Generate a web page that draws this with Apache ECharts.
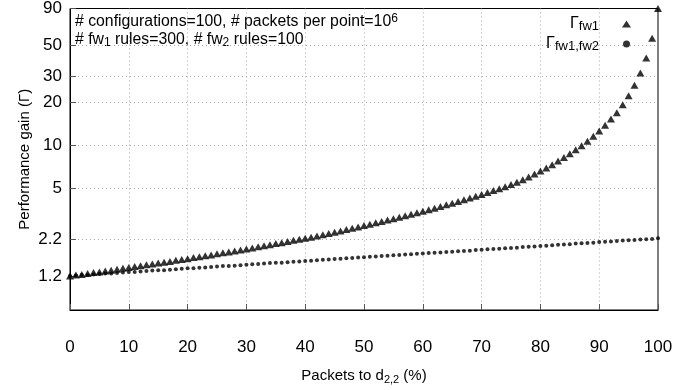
<!DOCTYPE html>
<html>
<head>
<meta charset="utf-8">
<script src="https://cdn.jsdelivr.net/npm/echarts@6/dist/echarts.min.js"></script>
<style>
html, body { margin: 0; padding: 0; background: #fff; }
#chart { width: 699px; height: 390px; }
</style>
</head>
<body>
<div id="chart"></div>
<script>
// packets to d2,2 in %, one point per percent
var packets = [0,1,2,3,4,5,6,7,8,9,10,11,12,13,14,15,16,17,18,19,20,21,22,23,24,25,26,27,28,29,30,31,32,33,34,35,36,37,38,39,40,41,42,43,44,45,46,47,48,49,50,51,52,53,54,55,56,57,58,59,60,61,62,63,64,65,66,67,68,69,70,71,72,73,74,75,76,77,78,79,80,81,82,83,84,85,86,87,88,89,90,91,92,93,94,95,96,97,98,99,100];

var gainFw1 = [1.21,1.23,1.24,1.26,1.28,1.29,1.31,1.33,1.35,1.37,1.39,1.41,1.43,1.45,1.47,1.49,1.51,1.53,1.56,1.58,1.60,1.63,1.65,1.68,1.70,1.73,1.76,1.78,1.81,1.84,1.87,1.90,1.94,1.97,2.00,2.04,2.07,2.11,2.15,2.19,2.22,2.26,2.31,2.35,2.40,2.45,2.50,2.56,2.61,2.67,2.73,2.79,2.85,2.91,2.98,3.05,3.12,3.20,3.27,3.35,3.43,3.52,3.61,3.71,3.81,3.91,4.02,4.14,4.26,4.38,4.50,4.64,4.79,4.94,5.10,5.29,5.49,5.71,5.97,6.26,6.57,6.89,7.27,7.71,8.18,8.68,9.24,9.86,10.6,11.5,12.5,13.7,15.2,16.8,19.1,22.1,26.1,31.9,40.6,55.8,90];

var gainFw1Fw2 = [1.21,1.22,1.23,1.23,1.24,1.25,1.26,1.26,1.27,1.28,1.29,1.29,1.30,1.31,1.32,1.33,1.33,1.34,1.35,1.36,1.37,1.37,1.38,1.39,1.40,1.41,1.42,1.42,1.43,1.44,1.45,1.46,1.47,1.48,1.49,1.50,1.50,1.51,1.52,1.53,1.54,1.55,1.56,1.57,1.58,1.59,1.60,1.61,1.62,1.63,1.64,1.65,1.66,1.67,1.68,1.69,1.70,1.71,1.72,1.73,1.74,1.75,1.76,1.77,1.78,1.79,1.80,1.81,1.82,1.84,1.85,1.86,1.87,1.88,1.89,1.90,1.91,1.93,1.94,1.95,1.96,1.97,1.99,2.00,2.01,2.02,2.04,2.05,2.06,2.07,2.09,2.10,2.11,2.13,2.14,2.15,2.16,2.18,2.19,2.20,2.22];

var yTicks = [1.2, 2.2, 5, 10, 20, 30, 50, 90];
var seriesNames = ['fw1', 'fw1,fw2'];

var font = 'Liberation Sans, Arial, sans-serif';

function pairs(vals) {
    var out = [];
    for (var i = 0; i < packets.length; i++) out.push([packets[i], vals[i]]);
    return out;
}

var dom = document.getElementById('chart');
var myChart = echarts.init(dom);

var gridLine = { show: true, showMinLine: false, showMaxLine: false,
    lineStyle: { color: '#a8a8a8', type: [1, 3], width: 1 } };

var option = {
    animation: false,
    grid: { left: 70, right: 41, top: 8, bottom: 79, show: true, borderColor: '#000', borderWidth: 1 },
    legend: {
        orient: 'vertical', align: 'right', right: 63, top: 11,
        itemWidth: 9, itemHeight: 7, itemGap: 3,
        textStyle: { fontFamily: font, fontSize: 15, color: '#000', padding: [0, 18, 0, 0] },
        formatter: function (name) { return '{g|Γ}{s|' + name + '}'; },
        data: seriesNames
    },
    xAxis: {
        type: 'value', min: 0, max: 100, interval: 10,
        name: 'Packets to d{s|2,2} (%)', nameLocation: 'middle', nameGap: 57,
        nameTextStyle: { fontFamily: font, fontSize: 15, color: '#000', lineHeight: 18,
            rich: { s: { fontSize: 11, verticalAlign: 'bottom', lineHeight: 10 } } },
        axisLine: { show: true, lineStyle: { color: '#000' } },
        axisTick: { show: true, inside: true, length: 6, lineStyle: { color: '#555' } },
        axisLabel: { fontFamily: font, fontSize: 17, color: '#000', margin: 29 },
        splitLine: gridLine
    },
    yAxis: {
        type: 'log', logBase: 10, min: 0.7, max: 90,
        name: 'Performance gain (Γ)', nameLocation: 'middle', nameGap: 38, nameRotate: 90,
        nameMoveOverlap: false,
        nameTextStyle: { fontFamily: font, fontSize: 15, color: '#000' },
        axisLine: { show: true, lineStyle: { color: '#000' } },
        axisTick: { show: true, inside: true, length: 6, lineStyle: { color: '#555' }, customValues: yTicks },
        axisLabel: { fontFamily: font, fontSize: 17, color: '#000', margin: 8, customValues: yTicks,
            formatter: function (v) { return String(v); } },
        splitLine: gridLine
    },
    graphic: [{
        type: 'text', left: 75, top: 13,
        style: {
            text: '# configurations=100, # packets per point=10{p|6}\n# fw{s|1} rules=300, # fw{s|2} rules=100',
            fontFamily: font, fontSize: 15.8, fill: '#000', lineHeight: 18,
            rich: {
                p: { fontSize: 12, verticalAlign: 'top', lineHeight: 10 },
                s: { fontSize: 12, verticalAlign: 'bottom', lineHeight: 10 }
            }
        }
    }],
    series: [{
        name: seriesNames[0], type: 'scatter', symbol: 'triangle', symbolSize: [8, 7],
        itemStyle: { color: '#000' }, data: pairs(gainFw1)
    }, {
        name: seriesNames[1], type: 'scatter', symbol: 'circle', symbolSize: 4,
        itemStyle: { color: '#000' }, data: pairs(gainFw1Fw2)
    }]
};
option.legend.textStyle.rich = {
    g: { fontFamily: font, fontSize: 16, lineHeight: 18 },
    s: { fontFamily: font, fontSize: 13, verticalAlign: 'bottom', lineHeight: 10 }
};

if (option && typeof option === "object") {
    myChart.setOption(option, true);
}
</script>
</body>
</html>
